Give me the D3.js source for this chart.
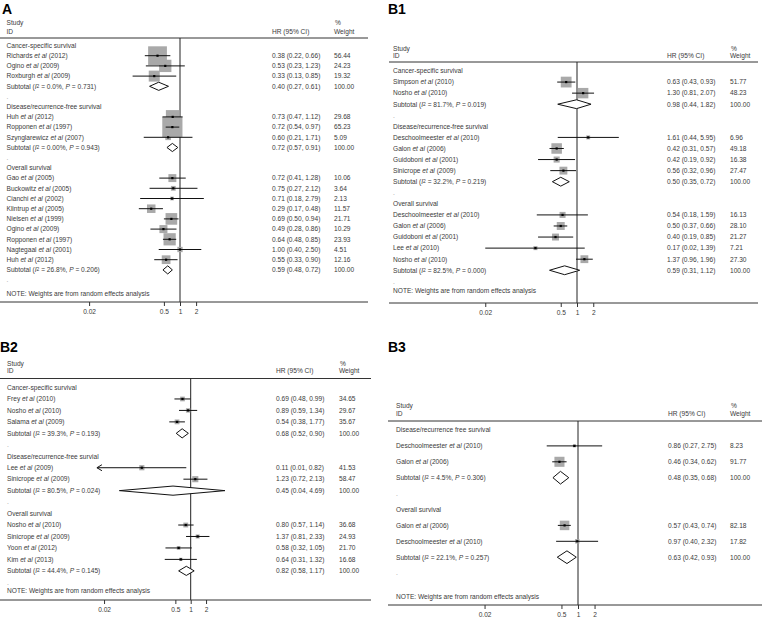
<!DOCTYPE html>
<html><head><meta charset="utf-8">
<script src="https://cdn.jsdelivr.net/npm/d3@7"></script>
<style>
body{margin:0;background:#fff}
svg{display:block}
text{font-family:"Liberation Sans",Arial,Helvetica,sans-serif}
</style>
</head><body>
<svg id="chart" width="763" height="621"></svg>
<script>
// ---------- shared ----------
const tickValues = [0.02, 0.5, 1, 2];
const tickLabels = ["0.02", "0.5", "1", "2"];
const noteText = "NOTE: Weights are from random effects analysis";

// ---------- Panel A ----------
const A_groups = ["Cancer-specific survival", "Disease/recurrence-free survival", "Overall survival"];
const A_author = ["Richards","Ogino","Roxburgh","Huh","Ropponen","Szynglarewicz","Gao","Buckowitz","Cianchi","Klintrup","Nielsen","Ogino","Ropponen","Nagtegaal","Huh"];
const A_year   = [2012,2009,2009,2012,1997,2007,2005,2005,2002,2005,1999,2009,1997,2001,2012];
const A_group  = [0,0,0,1,1,1,2,2,2,2,2,2,2,2,2];
const A_hr = [0.38,0.53,0.33,0.73,0.72,0.60,0.72,0.75,0.71,0.29,0.69,0.49,0.64,1.00,0.55];
const A_lo = [0.22,0.23,0.13,0.47,0.54,0.21,0.41,0.27,0.18,0.17,0.50,0.28,0.48,0.40,0.33];
const A_hi = [0.66,1.23,0.85,1.12,0.97,1.71,1.28,2.12,2.79,0.48,0.94,0.86,0.85,2.50,0.90];
const A_wt = [56.44,24.23,19.32,29.68,65.23,5.09,10.06,3.64,2.13,11.57,21.71,10.29,23.93,4.51,12.16];
const A_subHr = [0.40,0.72,0.59];
const A_subLo = [0.27,0.57,0.48];
const A_subHi = [0.61,0.91,0.72];
const A_subI2 = ["0.0%","0.00%","26.8%"];
const A_subP  = ["0.731","0.943","0.206"];

// ---------- Panel B1 ----------
const B1_groups = ["Cancer-specific survival", "Disease/recurrence-free survival", "Overall survival"];
const B1_author = ["Simpson","Nosho","Deschoolmeester","Galon","Guidoboni","Sinicrope","Deschoolmeester","Galon","Guidoboni","Lee","Nosho"];
const B1_year   = [2010,2010,2010,2006,2001,2009,2010,2006,2001,2010,2010];
const B1_group  = [0,0,1,1,1,1,2,2,2,2,2];
const B1_hr = [0.63,1.30,1.61,0.42,0.42,0.56,0.54,0.50,0.40,0.17,1.37];
const B1_lo = [0.43,0.81,0.44,0.31,0.19,0.32,0.18,0.37,0.19,0.02,0.96];
const B1_hi = [0.93,2.07,5.95,0.57,0.92,0.96,1.59,0.66,0.85,1.39,1.96];
const B1_wt = [51.77,48.23,6.96,49.18,16.38,27.47,16.13,28.10,21.27,7.21,27.30];
const B1_subHr = [0.98,0.50,0.59];
const B1_subLo = [0.44,0.35,0.31];
const B1_subHi = [1.82,0.72,1.12];
const B1_subI2 = ["81.7%","32.2%","82.5%"];
const B1_subP  = ["0.019","0.219","0.000"];

// ---------- Panel B2 ----------
const B2_groups = ["Cancer-specific survival", "Disease/recurrence-free survial", "Overall survival"];
const B2_author = ["Frey","Nosho","Salama","Lee","Sinicrope","Nosho","Sinicrope","Yoon","Kim"];
const B2_year   = [2010,2010,2009,2009,2009,2010,2009,2012,2013];
const B2_group  = [0,0,0,1,1,2,2,2,2];
const B2_hr = [0.69,0.89,0.54,0.11,1.23,0.80,1.37,0.58,0.64];
const B2_lo = [0.48,0.59,0.38,0.01,0.72,0.57,0.81,0.32,0.31];
const B2_hi = [0.99,1.34,0.77,0.82,2.13,1.14,2.33,1.05,1.32];   // drawn upper limits
const B2_hiPrinted = [0.99,1.34,1.77,0.82,2.13,1.14,2.33,1.05,1.32]; // as printed in the table
const B2_wt = [34.65,29.67,35.67,41.53,58.47,36.68,24.93,21.70,16.68];
const B2_subHr = [0.68,0.45,0.82];
const B2_subLo = [0.52,0.04,0.58];
const B2_subHi = [0.90,4.69,1.17];
const B2_subI2 = ["39.3%","80.5%","44.4%"];
const B2_subP  = ["0.193","0.024","0.145"];

// ---------- Panel B3 ----------
const B3_groups = ["Disease/recurrence free survival", "Overall survival"];
const B3_author = ["Deschoolmeester","Galon","Galon","Deschoolmeester"];
const B3_year   = [2010,2006,2006,2010];
const B3_group  = [0,0,1,1];
const B3_hr = [0.86,0.46,0.57,0.97];
const B3_lo = [0.27,0.34,0.43,0.40];
const B3_hi = [2.75,0.62,0.74,2.32];
const B3_wt = [8.23,91.77,82.18,17.82];
const B3_subHr = [0.48,0.63];
const B3_subLo = [0.35,0.42];
const B3_subHi = [0.68,0.93];
const B3_subI2 = ["4.5%","22.1%"];
const B3_subP  = ["0.306","0.257"];

// ---------- drawing ----------
const svg = d3.select("#chart");
const FS = 6.6;
const TXT = "#3a3a3a";

function drawPanel(cfg, d) {
  const g = svg.append("g");
  const x = d3.scaleLog().domain([0.1, 10]).range([cfg.xOne - cfg.perDec, cfg.xOne + cfg.perDec]);
  const y = d3.scaleLinear().domain([0, 1]).range([cfg.row0, cfg.row0 + cfg.rowSp]);

  // rows
  const rows = [];
  let r = 0;
  d.groups.forEach((name, gi) => {
    rows.push({type: "group", r: r++, text: name});
    d.group.forEach((gg, i) => { if (gg === gi) rows.push({type: "study", r: r++, i}); });
    rows.push({type: "sub", r: r++, gi});
    rows.push({type: "dot", r: r++});
  });

  // title
  g.append("text").attr("x", cfg.titleX).attr("y", cfg.titleY)
    .attr("font-size", 14).attr("font-weight", "bold").attr("fill", "#000").text(cfg.title);

  const t = (xx, yy, s) => g.append("text").attr("x", xx).attr("y", yy).attr("dy", "0.35em")
    .attr("font-size", FS).attr("fill", TXT).text(s);

  // header
  t(cfg.labelX, cfg.studyY, "Study");
  t(cfg.labelX, cfg.idY, "ID");
  t(cfg.hrX, cfg.idY, "HR (95% CI)");
  t(cfg.wtX + 1, cfg.studyY, "%");
  t(cfg.wtX, cfg.idY, "Weight");

  g.append("line").attr("x1", cfg.x0).attr("x2", cfg.x1).attr("y1", cfg.headLineY).attr("y2", cfg.headLineY)
    .attr("stroke", "#333").attr("stroke-width", 1);

  // reference line at 1
  g.append("line").attr("x1", x(1)).attr("x2", x(1)).attr("y1", cfg.headLineY).attr("y2", cfg.axisY)
    .attr("stroke", "#222").attr("stroke-width", 1);

  const studies = rows.filter(o => o.type === "study");
  const subs = rows.filter(o => o.type === "sub");

  // weight boxes
  g.selectAll("rect.box").data(studies).join("rect").attr("class", "box")
    .attr("x", o => x(d.hr[o.i]) - cfg.boxK * Math.sqrt(d.wt[o.i]) / 2)
    .attr("y", o => y(o.r) - cfg.boxK * Math.sqrt(d.wt[o.i]) / 2)
    .attr("width", o => cfg.boxK * Math.sqrt(d.wt[o.i]))
    .attr("height", o => cfg.boxK * Math.sqrt(d.wt[o.i]))
    .attr("fill", "#a9a9a9");

  // CI lines
  const clipMin = cfg.clipMin || 0;
  g.selectAll("line.ci").data(studies).join("line").attr("class", "ci")
    .attr("x1", o => x(Math.max(d.lo[o.i], clipMin))).attr("x2", o => x(d.hi[o.i]))
    .attr("y1", o => y(o.r)).attr("y2", o => y(o.r))
    .attr("stroke", "#111").attr("stroke-width", 1);

  // arrows when CI is clipped
  g.selectAll("path.arrow").data(studies.filter(o => d.lo[o.i] < clipMin)).join("path").attr("class", "arrow")
    .attr("d", o => { const ax = x(clipMin), ay = y(o.r); return `M${ax + 5},${ay - 3}L${ax},${ay}L${ax + 5},${ay + 3}`; })
    .attr("fill", "none").attr("stroke", "#111").attr("stroke-width", 1);

  // point estimates
  g.selectAll("rect.pt").data(studies).join("rect").attr("class", "pt")
    .attr("x", o => x(d.hr[o.i]) - 1.1).attr("y", o => y(o.r) - 1.1)
    .attr("width", 2.2).attr("height", 2.2).attr("fill", "#000");

  // diamonds
  const h = cfg.rowSp * 0.4;
  g.selectAll("path.dia").data(subs).join("path").attr("class", "dia")
    .attr("d", o => {
      const yy = y(o.r);
      return `M${x(d.subLo[o.gi])},${yy}L${x(d.subHr[o.gi])},${yy - h}L${x(d.subHi[o.gi])},${yy}L${x(d.subHr[o.gi])},${yy + h}Z`;
    })
    .attr("fill", "#fff").attr("stroke", "#111").attr("stroke-width", 1);

  // texts
  const f2 = v => v.toFixed(2);
  rows.forEach(o => {
    const yy = y(o.r);
    if (o.type === "group") t(cfg.labelX, yy, o.text);
    else if (o.type === "dot") t(cfg.labelX, yy, ".").attr("fill", "#999");
    else if (o.type === "study") {
      const i = o.i;
      const tx = t(cfg.labelX, yy, null);
      tx.append("tspan").text(d.author[i] + " ");
      tx.append("tspan").attr("font-style", "italic").text("et al");
      tx.append("tspan").text(" (" + d.year[i] + ")");
      const hiTxt = d.hiPrinted ? d.hiPrinted[i] : d.hi[i];
      t(cfg.hrX, yy, `${f2(d.hr[i])} (${f2(d.lo[i])}, ${f2(hiTxt)})`);
      t(cfg.wtX, yy, f2(d.wt[i]));
    } else if (o.type === "sub") {
      const k = o.gi;
      const tx = t(cfg.labelX, yy, null);
      tx.append("tspan").text("Subtotal  (");
      tx.append("tspan").attr("font-style", "italic").text("I");
      tx.append("tspan").attr("font-size", FS * 0.75).attr("dy", "-0.2em").text("2");
      tx.append("tspan").attr("dy", "0.15em").text(` = ${d.subI2[k]}, `);
      tx.append("tspan").attr("font-style", "italic").text("P");
      tx.append("tspan").text(` = ${d.subP[k]})`);
      t(cfg.hrX, yy, `${f2(d.subHr[k])} (${f2(d.subLo[k])}, ${f2(d.subHi[k])})`);
      t(cfg.wtX, yy, "100.00");
    }
  });

  // note
  t(cfg.labelX, cfg.noteY, noteText);

  // axis
  g.append("line").attr("x1", cfg.x0).attr("x2", cfg.x1).attr("y1", cfg.axisY).attr("y2", cfg.axisY)
    .attr("stroke", "#333").attr("stroke-width", 1);
  const ax = g.append("g").attr("transform", `translate(0,${cfg.axisY})`)
    .call(d3.axisBottom(x).tickValues(tickValues).tickFormat((v, i) => tickLabels[i]).tickSize(4).tickPadding(3));
  ax.select(".domain").remove();
  ax.selectAll(".tick line").attr("stroke", "#333");
  ax.selectAll(".tick text").attr("font-size", FS).attr("fill", TXT)
    .attr("font-family", '"Liberation Sans",Arial,sans-serif');
}

drawPanel({title: "A", titleX: 2, titleY: 14, x0: 0, x1: 368, xOne: 180, perDec: 53.5,
  labelX: 6.5, hrX: 272, wtX: 334, studyY: 23, idY: 31.5, headLineY: 38, row0: 45.5, rowSp: 10.2,
  noteY: 294, axisY: 302, boxK: 2.5},
  {groups: A_groups, author: A_author, year: A_year, group: A_group, hr: A_hr, lo: A_lo, hi: A_hi, wt: A_wt,
   subHr: A_subHr, subLo: A_subLo, subHi: A_subHi, subI2: A_subI2, subP: A_subP});

drawPanel({title: "B1", titleX: 388, titleY: 13.5, x0: 389, x1: 758, xOne: 577, perDec: 54,
  labelX: 393, hrX: 667, wtX: 730, studyY: 48.5, idY: 55.5, headLineY: 62, row0: 71, rowSp: 11.07,
  noteY: 290.5, axisY: 303, boxK: 1.5},
  {groups: B1_groups, author: B1_author, year: B1_year, group: B1_group, hr: B1_hr, lo: B1_lo, hi: B1_hi, wt: B1_wt,
   subHr: B1_subHr, subLo: B1_subLo, subHi: B1_subHi, subI2: B1_subI2, subP: B1_subP});

drawPanel({title: "B2", titleX: 0, titleY: 352, x0: 0, x1: 371, xOne: 190.7, perDec: 51,
  labelX: 7, hrX: 276, wtX: 339, studyY: 363.5, idY: 371, headLineY: 378.5, row0: 387.5, rowSp: 11.46,
  noteY: 591, axisY: 600, boxK: 0.8, clipMin: 0.0145},
  {groups: B2_groups, author: B2_author, year: B2_year, group: B2_group, hr: B2_hr, lo: B2_lo, hi: B2_hi, hiPrinted: B2_hiPrinted, wt: B2_wt,
   subHr: B2_subHr, subLo: B2_subLo, subHi: B2_subHi, subI2: B2_subI2, subP: B2_subP});

drawPanel({title: "B3", titleX: 388, titleY: 352, x0: 388, x1: 762, xOne: 578, perDec: 55,
  labelX: 396, hrX: 668, wtX: 730, studyY: 406, idY: 413.5, headLineY: 421, row0: 430, rowSp: 15.9,
  noteY: 597, axisY: 605, boxK: 1.05},
  {groups: B3_groups, author: B3_author, year: B3_year, group: B3_group, hr: B3_hr, lo: B3_lo, hi: B3_hi, wt: B3_wt,
   subHr: B3_subHr, subLo: B3_subLo, subHi: B3_subHi, subI2: B3_subI2, subP: B3_subP});
</script>
</body></html>
